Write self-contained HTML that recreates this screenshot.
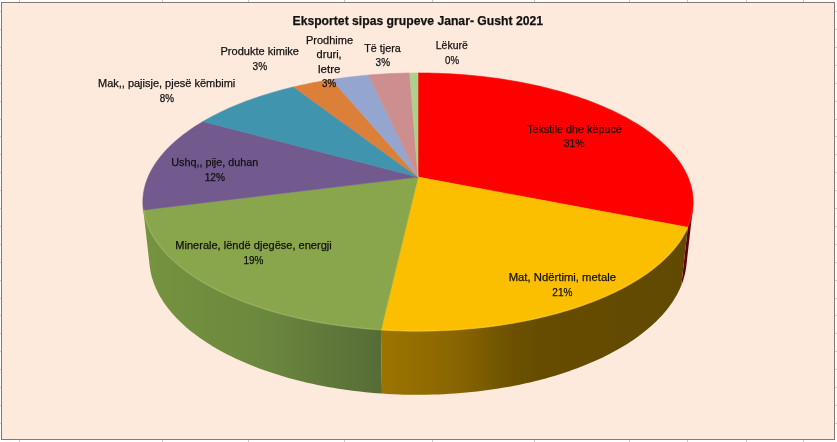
<!DOCTYPE html>
<html><head><meta charset="utf-8"><style>
html,body{margin:0;padding:0;background:#fff;}
body{width:837px;height:442px;overflow:hidden;position:relative;}
svg{position:absolute;left:0;top:0;}
text{font-family:"Liberation Sans", sans-serif;fill:#111;stroke:#111;stroke-width:0.25px;}
</style></head><body>
<svg width="837" height="442" viewBox="0 0 837 442">
<defs><linearGradient id="g0" gradientUnits="userSpaceOnUse" x1="679.1" y1="0" x2="692.8" y2="0"><stop offset="0" stop-color="#6E0000"/><stop offset="1" stop-color="#560000"/></linearGradient><linearGradient id="g1" gradientUnits="userSpaceOnUse" x1="381.0" y1="0" x2="687.8" y2="0"><stop offset="0" stop-color="#9C7400"/><stop offset="0.24" stop-color="#8A6600"/><stop offset="0.43" stop-color="#6C5100"/><stop offset="0.52" stop-color="#654C00"/><stop offset="1" stop-color="#614900"/></linearGradient><linearGradient id="g2" gradientUnits="userSpaceOnUse" x1="143.3" y1="0" x2="382.3" y2="0"><stop offset="0" stop-color="#75933F"/><stop offset="0.5" stop-color="#6C883E"/><stop offset="1" stop-color="#566C36"/></linearGradient><linearGradient id="g3" gradientUnits="userSpaceOnUse" x1="143.2" y1="0" x2="152.0" y2="0"><stop offset="0" stop-color="#5E4A78"/><stop offset="1" stop-color="#5A4773"/></linearGradient></defs>
<rect x="0" y="11" width="1" height="1" fill="#D0D0D0"/><rect x="835" y="11" width="2" height="1" fill="#D0D0D0"/><rect x="0" y="29" width="1" height="1" fill="#D0D0D0"/><rect x="835" y="29" width="2" height="1" fill="#D0D0D0"/><rect x="0" y="47" width="1" height="1" fill="#D0D0D0"/><rect x="835" y="47" width="2" height="1" fill="#D0D0D0"/><rect x="0" y="65" width="1" height="1" fill="#D0D0D0"/><rect x="835" y="65" width="2" height="1" fill="#D0D0D0"/><rect x="0" y="83" width="1" height="1" fill="#D0D0D0"/><rect x="835" y="83" width="2" height="1" fill="#D0D0D0"/><rect x="0" y="101" width="1" height="1" fill="#D0D0D0"/><rect x="835" y="101" width="2" height="1" fill="#D0D0D0"/><rect x="0" y="119" width="1" height="1" fill="#D0D0D0"/><rect x="835" y="119" width="2" height="1" fill="#D0D0D0"/><rect x="0" y="136" width="1" height="1" fill="#D0D0D0"/><rect x="835" y="136" width="2" height="1" fill="#D0D0D0"/><rect x="0" y="154" width="1" height="1" fill="#D0D0D0"/><rect x="835" y="154" width="2" height="1" fill="#D0D0D0"/><rect x="0" y="172" width="1" height="1" fill="#D0D0D0"/><rect x="835" y="172" width="2" height="1" fill="#D0D0D0"/><rect x="0" y="190" width="1" height="1" fill="#D0D0D0"/><rect x="835" y="190" width="2" height="1" fill="#D0D0D0"/><rect x="0" y="208" width="1" height="1" fill="#D0D0D0"/><rect x="835" y="208" width="2" height="1" fill="#D0D0D0"/><rect x="0" y="226" width="1" height="1" fill="#D0D0D0"/><rect x="835" y="226" width="2" height="1" fill="#D0D0D0"/><rect x="0" y="244" width="1" height="1" fill="#D0D0D0"/><rect x="835" y="244" width="2" height="1" fill="#D0D0D0"/><rect x="0" y="262" width="1" height="1" fill="#D0D0D0"/><rect x="835" y="262" width="2" height="1" fill="#D0D0D0"/><rect x="0" y="280" width="1" height="1" fill="#D0D0D0"/><rect x="835" y="280" width="2" height="1" fill="#D0D0D0"/><rect x="0" y="298" width="1" height="1" fill="#D0D0D0"/><rect x="835" y="298" width="2" height="1" fill="#D0D0D0"/><rect x="0" y="315" width="1" height="1" fill="#D0D0D0"/><rect x="835" y="315" width="2" height="1" fill="#D0D0D0"/><rect x="0" y="333" width="1" height="1" fill="#D0D0D0"/><rect x="835" y="333" width="2" height="1" fill="#D0D0D0"/><rect x="0" y="351" width="1" height="1" fill="#D0D0D0"/><rect x="835" y="351" width="2" height="1" fill="#D0D0D0"/><rect x="0" y="369" width="1" height="1" fill="#D0D0D0"/><rect x="835" y="369" width="2" height="1" fill="#D0D0D0"/><rect x="0" y="387" width="1" height="1" fill="#D0D0D0"/><rect x="835" y="387" width="2" height="1" fill="#D0D0D0"/><rect x="0" y="405" width="1" height="1" fill="#D0D0D0"/><rect x="835" y="405" width="2" height="1" fill="#D0D0D0"/><rect x="0" y="423" width="1" height="1" fill="#D0D0D0"/><rect x="835" y="423" width="2" height="1" fill="#D0D0D0"/><rect x="19" y="0" width="1" height="2" fill="#C8C8C8"/><rect x="19" y="440" width="1" height="2" fill="#C8C8C8"/><rect x="162" y="0" width="1" height="2" fill="#C8C8C8"/><rect x="162" y="440" width="1" height="2" fill="#C8C8C8"/><rect x="248" y="0" width="1" height="2" fill="#C8C8C8"/><rect x="248" y="440" width="1" height="2" fill="#C8C8C8"/><rect x="344" y="0" width="1" height="2" fill="#C8C8C8"/><rect x="344" y="440" width="1" height="2" fill="#C8C8C8"/><rect x="432" y="0" width="1" height="2" fill="#C8C8C8"/><rect x="432" y="440" width="1" height="2" fill="#C8C8C8"/><rect x="534" y="0" width="1" height="2" fill="#C8C8C8"/><rect x="534" y="440" width="1" height="2" fill="#C8C8C8"/><rect x="629" y="0" width="1" height="2" fill="#C8C8C8"/><rect x="629" y="440" width="1" height="2" fill="#C8C8C8"/><rect x="687" y="0" width="1" height="2" fill="#C8C8C8"/><rect x="687" y="440" width="1" height="2" fill="#C8C8C8"/><rect x="746" y="0" width="1" height="2" fill="#C8C8C8"/><rect x="746" y="440" width="1" height="2" fill="#C8C8C8"/><rect x="803" y="0" width="1" height="2" fill="#C8C8C8"/><rect x="803" y="440" width="1" height="2" fill="#C8C8C8"/>
<rect x="1.5" y="2.5" width="833" height="437" fill="#FDEADC" stroke="#7F7873" stroke-width="1"/>
<g shape-rendering="geometricPrecision">
<polygon points="692.77,208.95 684.13,207.95 683.81,210.16 683.40,212.38 682.91,214.60 682.33,216.82 681.66,219.05 680.91,221.27 680.07,223.50 679.13,225.73 687.84,227.35 681.33,285.37 682.26,282.93 683.10,280.49 683.86,278.05 684.52,275.62 685.10,273.18 685.59,270.75 685.99,268.32 686.31,265.90" fill="url(#g0)"/>
<polygon points="687.84,227.35 679.13,225.73 678.11,227.96 676.99,230.20 675.78,232.43 674.48,234.65 673.09,236.88 671.60,239.10 670.02,241.31 668.35,243.51 666.58,245.71 664.73,247.89 662.77,250.07 660.73,252.23 658.59,254.38 656.36,256.52 654.03,258.65 651.61,260.76 649.09,262.85 646.49,264.93 643.79,266.99 641.00,269.03 638.11,271.05 635.14,273.05 632.07,275.02 628.91,276.98 625.67,278.91 622.33,280.81 618.91,282.69 615.40,284.53 611.80,286.35 608.12,288.15 604.35,289.91 600.50,291.63 596.57,293.33 592.56,294.99 588.47,296.62 584.30,298.21 580.05,299.77 575.73,301.29 571.33,302.77 566.87,304.21 562.33,305.61 557.72,306.96 553.05,308.28 548.32,309.55 543.52,310.78 538.66,311.97 533.74,313.11 528.77,314.20 523.75,315.25 518.67,316.25 513.54,317.20 508.36,318.10 503.14,318.95 497.88,319.76 492.58,320.51 487.24,321.21 481.87,321.86 476.46,322.46 471.03,323.00 465.57,323.49 460.08,323.93 454.58,324.32 449.05,324.65 443.51,324.92 437.96,325.15 432.40,325.32 426.82,325.43 421.25,325.49 415.67,325.49 410.10,325.44 404.53,325.34 398.96,325.18 393.41,324.97 387.86,324.70 382.34,324.37 380.97,330.02 381.99,393.57 387.57,393.93 393.17,394.22 398.78,394.46 404.40,394.63 410.02,394.75 415.65,394.80 421.28,394.80 426.91,394.73 432.53,394.61 438.15,394.42 443.76,394.18 449.35,393.87 454.93,393.51 460.49,393.09 466.03,392.60 471.54,392.06 477.02,391.47 482.48,390.81 487.91,390.10 493.29,389.33 498.65,388.50 503.96,387.62 509.23,386.69 514.45,385.69 519.62,384.65 524.75,383.55 529.82,382.40 534.84,381.20 539.80,379.95 544.71,378.65 549.55,377.30 554.33,375.90 559.04,374.46 563.68,372.97 568.26,371.43 572.77,369.85 577.20,368.22 581.56,366.56 585.84,364.85 590.05,363.10 594.17,361.32 598.22,359.49 602.18,357.63 606.06,355.74 609.86,353.80 613.57,351.84 617.20,349.84 620.74,347.81 624.19,345.76 627.55,343.67 630.82,341.55 634.00,339.41 637.09,337.24 640.08,335.05 642.99,332.84 645.80,330.60 648.52,328.34 651.14,326.06 653.67,323.77 656.11,321.45 658.45,319.12 660.70,316.78 662.85,314.42 664.90,312.04 666.87,309.66 668.73,307.26 670.51,304.86 672.19,302.44 673.77,300.02 675.26,297.59 676.66,295.15 677.97,292.71 679.18,290.27 680.30,287.82 681.33,285.37" fill="url(#g1)"/>
<polygon points="380.97,330.02 382.34,324.37 376.85,324.00 371.38,323.57 365.94,323.09 360.52,322.56 355.14,321.97 349.78,321.34 344.46,320.65 339.17,319.91 333.92,319.12 328.72,318.28 323.55,317.40 318.44,316.46 313.37,315.47 308.35,314.44 303.39,313.36 298.48,312.24 293.63,311.07 288.84,309.86 284.11,308.60 279.44,307.30 274.84,305.95 270.30,304.57 265.84,303.15 261.44,301.69 257.12,300.18 252.87,298.65 248.69,297.07 244.60,295.46 240.58,293.81 236.64,292.13 232.78,290.42 229.01,288.68 225.32,286.90 221.71,285.10 218.18,283.27 214.75,281.41 211.40,279.52 208.14,277.61 204.96,275.67 201.88,273.71 198.89,271.73 195.98,269.73 193.17,267.70 190.45,265.66 187.82,263.60 185.29,261.52 182.84,259.42 180.49,257.31 178.23,255.19 176.07,253.05 174.00,250.90 172.02,248.73 170.13,246.56 168.34,244.38 166.63,242.19 165.03,239.99 163.51,237.78 162.08,235.57 160.75,233.35 159.51,231.13 158.36,228.91 157.30,226.69 156.32,224.46 155.44,222.23 154.65,220.00 153.94,217.77 153.33,215.55 152.80,213.33 152.35,211.11 151.99,208.89 143.35,209.93 149.81,266.93 150.17,269.36 150.61,271.79 151.14,274.22 151.75,276.66 152.45,279.10 153.25,281.54 154.13,283.98 155.10,286.42 156.16,288.86 157.32,291.30 158.56,293.73 159.90,296.16 161.33,298.58 162.86,301.00 164.47,303.41 166.18,305.81 167.98,308.20 169.88,310.58 171.87,312.95 173.95,315.31 176.13,317.66 178.40,319.99 180.77,322.30 183.23,324.60 185.78,326.88 188.43,329.14 191.17,331.38 194.00,333.60 196.92,335.80 199.94,337.97 203.04,340.12 206.24,342.25 209.53,344.34 212.90,346.41 216.36,348.45 219.91,350.46 223.55,352.44 227.27,354.39 231.08,356.30 234.97,358.18 238.94,360.02 242.99,361.83 247.12,363.60 251.33,365.33 255.62,367.02 259.98,368.66 264.41,370.27 268.92,371.83 273.49,373.35 278.14,374.82 282.84,376.25 287.62,377.63 292.45,378.96 297.35,380.25 302.30,381.48 307.31,382.67 312.38,383.80 317.49,384.88 322.65,385.91 327.87,386.88 333.12,387.81 338.42,388.67 343.75,389.48 349.13,390.24 354.53,390.94 359.97,391.58 365.44,392.17 370.94,392.69 376.45,393.16 381.99,393.57" fill="url(#g2)"/>
<polygon points="143.35,209.93 151.99,208.89 151.87,207.95 143.23,208.95 149.69,265.90 149.81,266.93" fill="url(#g3)"/>
<polygon points="418.00,177.09 418.00,72.99 421.91,73.00 425.83,73.04 429.74,73.11 433.65,73.20 437.55,73.31 441.46,73.46 445.36,73.63 449.26,73.82 453.15,74.05 457.03,74.29 460.91,74.57 464.79,74.87 468.65,75.19 472.51,75.55 476.36,75.92 480.20,76.33 484.03,76.76 487.85,77.22 491.66,77.70 495.46,78.21 499.24,78.74 503.02,79.30 506.77,79.89 510.52,80.50 514.25,81.14 517.96,81.81 521.66,82.50 525.34,83.22 529.00,83.96 532.65,84.73 536.27,85.52 539.88,86.34 543.46,87.19 547.03,88.06 550.57,88.96 554.09,89.88 557.59,90.83 561.06,91.81 564.51,92.81 567.93,93.84 571.32,94.89 574.69,95.96 578.03,97.07 581.34,98.20 584.62,99.35 587.88,100.53 591.10,101.73 594.29,102.96 597.44,104.22 600.56,105.50 603.65,106.80 606.70,108.13 609.72,109.48 612.70,110.86 615.64,112.26 618.54,113.69 621.40,115.14 624.22,116.62 627.00,118.12 629.74,119.64 632.44,121.19 635.09,122.76 637.69,124.36 640.25,125.97 642.76,127.61 645.22,129.28 647.64,130.96 650.00,132.67 652.31,134.40 654.57,136.16 656.78,137.93 658.93,139.73 661.03,141.55 663.07,143.38 665.05,145.24 666.98,147.12 668.84,149.02 670.65,150.95 672.39,152.89 674.07,154.84 675.69,156.82 677.25,158.82 678.73,160.84 680.16,162.87 681.51,164.92 682.79,166.99 684.01,169.07 685.15,171.17 686.23,173.29 687.22,175.42 688.15,177.56 689.00,179.72 689.77,181.90 690.47,184.09 691.09,186.29 691.63,188.50 692.09,190.72 692.47,192.96 692.77,195.20 692.98,197.46 693.11,199.72 693.16,201.99 693.12,204.27 693.00,206.56 692.78,208.86 692.48,211.16 692.09,213.46 691.61,215.77 691.04,218.08 690.38,220.40 689.63,222.71 688.78,225.03 687.84,227.35" fill="#FF0000" stroke="#FF0000" stroke-width="0.6" stroke-linejoin="round"/>
<polygon points="418.00,177.09 687.84,227.35 686.81,229.66 685.68,231.98 684.46,234.29 683.15,236.60 681.73,238.91 680.23,241.20 678.62,243.50 676.92,245.78 675.12,248.06 673.23,250.33 671.24,252.59 669.14,254.84 666.96,257.07 664.67,259.30 662.29,261.50 659.81,263.70 657.23,265.87 654.56,268.03 651.78,270.17 648.92,272.30 645.95,274.40 642.89,276.48 639.74,278.53 636.49,280.56 633.15,282.57 629.71,284.55 626.18,286.51 622.56,288.43 618.85,290.33 615.05,292.20 611.17,294.03 607.19,295.83 603.13,297.60 598.98,299.33 594.76,301.03 590.44,302.69 586.05,304.31 581.58,305.90 577.04,307.44 572.42,308.94 567.72,310.41 562.95,311.82 558.12,313.20 553.21,314.53 548.24,315.81 543.21,317.05 538.11,318.24 532.96,319.38 527.75,320.48 522.48,321.52 517.16,322.52 511.80,323.46 506.38,324.35 500.92,325.19 495.42,325.97 489.88,326.71 484.31,327.39 478.70,328.01 473.06,328.58 467.39,329.09 461.69,329.55 455.98,329.95 450.24,330.30 444.49,330.59 438.72,330.82 432.95,331.00 427.16,331.12 421.37,331.18 415.58,331.19 409.79,331.13 404.01,331.02 398.23,330.86 392.46,330.63 386.71,330.35 380.97,330.02" fill="#FBBF00" stroke="#FBBF00" stroke-width="0.6" stroke-linejoin="round"/>
<polygon points="418.00,177.09 380.97,330.02 375.27,329.62 369.60,329.18 363.95,328.68 358.33,328.12 352.74,327.51 347.18,326.84 341.65,326.12 336.17,325.35 330.73,324.52 325.33,323.65 319.97,322.72 314.67,321.74 309.41,320.71 304.21,319.63 299.06,318.51 293.98,317.33 288.95,316.11 283.98,314.84 279.08,313.53 274.25,312.17 269.49,310.77 264.79,309.33 260.17,307.84 255.62,306.31 251.15,304.75 246.76,303.14 242.44,301.50 238.21,299.82 234.06,298.10 229.99,296.35 226.01,294.57 222.11,292.75 218.30,290.90 214.58,289.02 210.94,287.12 207.40,285.18 203.95,283.21 200.59,281.22 197.33,279.21 194.15,277.17 191.08,275.11 188.09,273.02 185.20,270.92 182.41,268.79 179.71,266.65 177.11,264.48 174.61,262.31 172.20,260.11 169.89,257.90 167.67,255.68 165.55,253.45 163.53,251.20 161.61,248.95 159.78,246.68 158.04,244.41 156.41,242.13 154.87,239.84 153.42,237.55 152.07,235.25 150.82,232.95 149.66,230.65 148.59,228.34 147.61,226.03 146.73,223.73 145.94,221.42 145.24,219.12 144.63,216.81 144.12,214.51 143.69,212.22 143.35,209.93" fill="#89A64D" stroke="#89A64D" stroke-width="0.6" stroke-linejoin="round"/>
<polygon points="418.00,177.09 143.35,209.93 143.09,207.62 142.93,205.31 142.85,203.02 142.85,200.73 142.95,198.45 143.13,196.18 143.39,193.91 143.74,191.66 144.17,189.42 144.68,187.19 145.27,184.98 145.94,182.77 146.69,180.58 147.51,178.40 148.41,176.24 149.39,174.09 150.44,171.96 151.56,169.84 152.76,167.74 154.03,165.65 155.36,163.59 156.77,161.54 158.24,159.50 159.78,157.49 161.39,155.49 163.06,153.52 164.79,151.56 166.59,149.62 168.44,147.71 170.36,145.81 172.34,143.93 174.37,142.08 176.47,140.24 178.61,138.43 180.82,136.64 183.08,134.87 185.39,133.13 187.75,131.40 190.16,129.70 192.63,128.02 195.14,126.37 197.70,124.74 200.31,123.13 202.96,121.54" fill="#725A8F" stroke="#725A8F" stroke-width="0.6" stroke-linejoin="round"/>
<polygon points="418.00,177.09 202.96,121.54 205.60,120.01 208.29,118.51 211.01,117.03 213.78,115.57 216.58,114.13 219.43,112.72 222.31,111.33 225.23,109.96 228.19,108.62 231.18,107.31 234.20,106.01 237.26,104.74 240.36,103.50 243.48,102.28 246.64,101.08 249.82,99.91 253.04,98.76 256.28,97.64 259.56,96.54 262.86,95.47 266.18,94.42 269.54,93.39 272.92,92.39 276.32,91.42 279.75,90.47 283.20,89.54 286.67,88.64 290.16,87.77 293.68,86.92" fill="#4194AE" stroke="#4194AE" stroke-width="0.6" stroke-linejoin="round"/>
<polygon points="418.00,177.09 293.68,86.92 297.04,86.13 300.41,85.37 303.81,84.63 307.22,83.91 310.65,83.22 314.09,82.55 317.54,81.90 321.01,81.27 324.50,80.67 328.00,80.09 331.51,79.53" fill="#DC8039" stroke="#DC8039" stroke-width="0.6" stroke-linejoin="round"/>
<polygon points="418.00,177.09 331.51,79.53 335.16,78.98 338.82,78.45 342.49,77.94 346.17,77.46 349.86,77.01 353.57,76.58 357.28,76.17 361.00,75.79 364.73,75.43 368.47,75.10" fill="#94A6CF" stroke="#94A6CF" stroke-width="0.6" stroke-linejoin="round"/>
<polygon points="418.00,177.09 368.47,75.10 372.20,74.79 375.93,74.51 379.66,74.25 383.41,74.01 387.15,73.80 390.91,73.62 394.66,73.45 398.42,73.31 402.18,73.20 405.95,73.11 409.71,73.05" fill="#CC8E8E" stroke="#CC8E8E" stroke-width="0.6" stroke-linejoin="round"/>
<polygon points="418.00,177.09 409.71,73.05 412.47,73.01 415.24,72.99 418.00,72.99" fill="#AFD08D" stroke="#AFD08D" stroke-width="0.6" stroke-linejoin="round"/>
<polyline points="692.19,208.88 692.05,210.05 691.88,211.23 691.69,212.40 691.48,213.57 691.24,214.75 690.98,215.92 690.69,217.10 690.38,218.28 690.05,219.45 689.70,220.63 689.32,221.81 688.91,222.99 688.49,224.17 688.03,225.35 687.56,226.53 687.06,227.71 686.53,228.89 685.98,230.07 685.41,231.25 684.81,232.42 684.19,233.60 683.54,234.78 682.87,235.95 682.17,237.13 681.45,238.30 680.71,239.47 679.93,240.64 679.14,241.81 678.31,242.98 677.47,244.14 676.60,245.31 675.70,246.47 674.78,247.63 673.83,248.79 672.85,249.94 671.86,251.09 670.83,252.24 669.78,253.39 668.71,254.53 667.61,255.67 666.48,256.81 665.33,257.94 664.16,259.07 662.96,260.20 661.73,261.32 660.48,262.44 659.20,263.55 657.90,264.66 656.57,265.77 655.22,266.87 653.84,267.96 652.44,269.05 651.01,270.14 649.56,271.22 648.08,272.30 646.58,273.37 645.05,274.43 643.50,275.49 641.92,276.55 640.32,277.60 638.69,278.64 637.04,279.67 635.36,280.70 633.66,281.72 631.94,282.74 630.19,283.75 628.42,284.75 626.62,285.75 624.80,286.73 622.96,287.71 621.09,288.69 619.20,289.65 617.29,290.61 615.35,291.56 613.39,292.50 611.41,293.43 609.40,294.35 607.38,295.27 605.33,296.18 603.25,297.07 601.16,297.96 599.04,298.84 596.90,299.71 594.75,300.57 592.56,301.42 590.36,302.27 588.14,303.10 585.90,303.92 583.63,304.73 581.35,305.53 579.04,306.33 576.72,307.11 574.38,307.88 572.01,308.64 569.63,309.38 567.23,310.12 564.81,310.85 562.38,311.56 559.92,312.27 557.45,312.96 554.96,313.64 552.45,314.31 549.92,314.97 547.38,315.61 544.82,316.25 542.25,316.87 539.66,317.47 537.05,318.07 534.43,318.65 531.79,319.23 529.14,319.78 526.48,320.33 523.80,320.86 521.10,321.38 518.40,321.89 515.68,322.38 512.95,322.86 510.20,323.33 507.45,323.78 504.68,324.22 501.90,324.65 499.11,325.06 496.31,325.46 493.50,325.84 490.67,326.21 487.84,326.57 485.00,326.91 482.15,327.24 479.30,327.56 476.43,327.86 473.56,328.14 470.68,328.42 467.79,328.67 464.89,328.92 461.99,329.14 459.09,329.36 456.18,329.56 453.26,329.74 450.34,329.91 447.41,330.07 444.48,330.21 441.55,330.33 438.61,330.44 435.67,330.54 432.73,330.62 429.79,330.69 426.84,330.74 423.89,330.78 420.95,330.80 418.00,330.81 415.05,330.80 412.11,330.78 409.16,330.74 406.21,330.69 403.27,330.62 400.33,330.54 397.39,330.44 394.45,330.33 391.52,330.21 388.59,330.07 385.66,329.91 382.74,329.74 379.82,329.56 376.91,329.36 374.01,329.14 371.11,328.92 368.21,328.67 365.32,328.42 362.44,328.14 359.57,327.86 356.70,327.56 353.85,327.24 351.00,326.91 348.16,326.57 345.33,326.21 342.50,325.84 339.69,325.46 336.89,325.06 334.10,324.65 331.32,324.22 328.55,323.78 325.80,323.33 323.05,322.86 320.32,322.38 317.60,321.89 314.90,321.38 312.20,320.86 309.52,320.33 306.86,319.78 304.21,319.23 301.57,318.65 298.95,318.07 296.34,317.47 293.75,316.87 291.18,316.25 288.62,315.61 286.08,314.97 283.55,314.31 281.04,313.64 278.55,312.96 276.08,312.27 273.62,311.56 271.19,310.85 268.77,310.12 266.37,309.38 263.99,308.64 261.62,307.88 259.28,307.11 256.96,306.33 254.65,305.53 252.37,304.73 250.10,303.92 247.86,303.10 245.64,302.27 243.44,301.42 241.25,300.57 239.10,299.71 236.96,298.84 234.84,297.96 232.75,297.07 230.67,296.18 228.62,295.27 226.60,294.35 224.59,293.43 222.61,292.50 220.65,291.56 218.71,290.61 216.80,289.65 214.91,288.69 213.04,287.71 211.20,286.73 209.38,285.75 207.58,284.75 205.81,283.75 204.06,282.74 202.34,281.72 200.64,280.70 198.96,279.67 197.31,278.64 195.68,277.60 194.08,276.55 192.50,275.49 190.95,274.43 189.42,273.37 187.92,272.30 186.44,271.22 184.99,270.14 183.56,269.05 182.16,267.96 180.78,266.87 179.43,265.77 178.10,264.66 176.80,263.55 175.52,262.44 174.27,261.32 173.04,260.20 171.84,259.07 170.67,257.94 169.52,256.81 168.39,255.67 167.29,254.53 166.22,253.39 165.17,252.24 164.14,251.09 163.15,249.94 162.17,248.79 161.22,247.63 160.30,246.47 159.40,245.31 158.53,244.14 157.69,242.98 156.86,241.81 156.07,240.64 155.29,239.47 154.55,238.30 153.83,237.13 153.13,235.95 152.46,234.78 151.81,233.60 151.19,232.42 150.59,231.25 150.02,230.07 149.47,228.89 148.94,227.71 148.44,226.53 147.97,225.35 147.51,224.17 147.09,222.99 146.68,221.81 146.30,220.63 145.95,219.45 145.62,218.28 145.31,217.10 145.02,215.92 144.76,214.75 144.52,213.57 144.31,212.40 144.12,211.23 143.95,210.05 143.81,208.88" fill="none" stroke="#ffffff" stroke-opacity="0.15" stroke-width="1"/>
</g>
<g style="will-change:transform"><text x="292.5" y="25.0" textLength="250.5" lengthAdjust="spacingAndGlyphs" font-size="13.5" font-weight="bold">Eksportet sipas grupeve Janar- Gusht 2021</text>
<text x="220.5" y="55.2" textLength="78.5" lengthAdjust="spacingAndGlyphs" font-size="11.3">Produkte kimike</text>
<text x="252.6" y="69.6" textLength="14.6" lengthAdjust="spacingAndGlyphs" font-size="11.3">3%</text>
<text x="306.0" y="44.3" textLength="47.0" lengthAdjust="spacingAndGlyphs" font-size="11.3">Prodhime</text>
<text x="316.6" y="58.4" textLength="25.1" lengthAdjust="spacingAndGlyphs" font-size="11.3">druri,</text>
<text x="318.0" y="72.6" textLength="22.5" lengthAdjust="spacingAndGlyphs" font-size="11.3">letre</text>
<text x="322.0" y="87.0" textLength="14.0" lengthAdjust="spacingAndGlyphs" font-size="11.3">3%</text>
<text x="364.3" y="52.0" textLength="36.4" lengthAdjust="spacingAndGlyphs" font-size="11.3">Të tjera</text>
<text x="375.6" y="66.4" textLength="14.4" lengthAdjust="spacingAndGlyphs" font-size="11.3">3%</text>
<text x="435.8" y="48.8" textLength="32.0" lengthAdjust="spacingAndGlyphs" font-size="11.3">Lëkurë</text>
<text x="445.0" y="63.6" textLength="14.0" lengthAdjust="spacingAndGlyphs" font-size="11.3">0%</text>
<text x="98.0" y="87.2" textLength="137.3" lengthAdjust="spacingAndGlyphs" font-size="11.3">Mak,, pajisje, pjesë këmbimi</text>
<text x="159.8" y="101.5" textLength="14.3" lengthAdjust="spacingAndGlyphs" font-size="11.3">8%</text>
<text x="171.2" y="166.0" textLength="87.1" lengthAdjust="spacingAndGlyphs" font-size="11.3">Ushq,, pije, duhan</text>
<text x="204.7" y="180.7" textLength="20.3" lengthAdjust="spacingAndGlyphs" font-size="11.3">12%</text>
<text x="175.3" y="248.9" textLength="156.4" lengthAdjust="spacingAndGlyphs" font-size="11.3">Minerale, lëndë djegëse, energji</text>
<text x="243.5" y="264.0" textLength="20.0" lengthAdjust="spacingAndGlyphs" font-size="11.3">19%</text>
<text x="508.7" y="281.0" textLength="107.3" lengthAdjust="spacingAndGlyphs" font-size="11.3">Mat, Ndërtimi, metale</text>
<text x="552.3" y="295.5" textLength="20.1" lengthAdjust="spacingAndGlyphs" font-size="11.3">21%</text>
<text x="527.2" y="132.6" textLength="94.6" lengthAdjust="spacingAndGlyphs" font-size="11.3">Tekstile dhe këpucë</text>
<text x="563.7" y="147.4" textLength="20.8" lengthAdjust="spacingAndGlyphs" font-size="11.3">31%</text></g>
</svg>
</body></html>
